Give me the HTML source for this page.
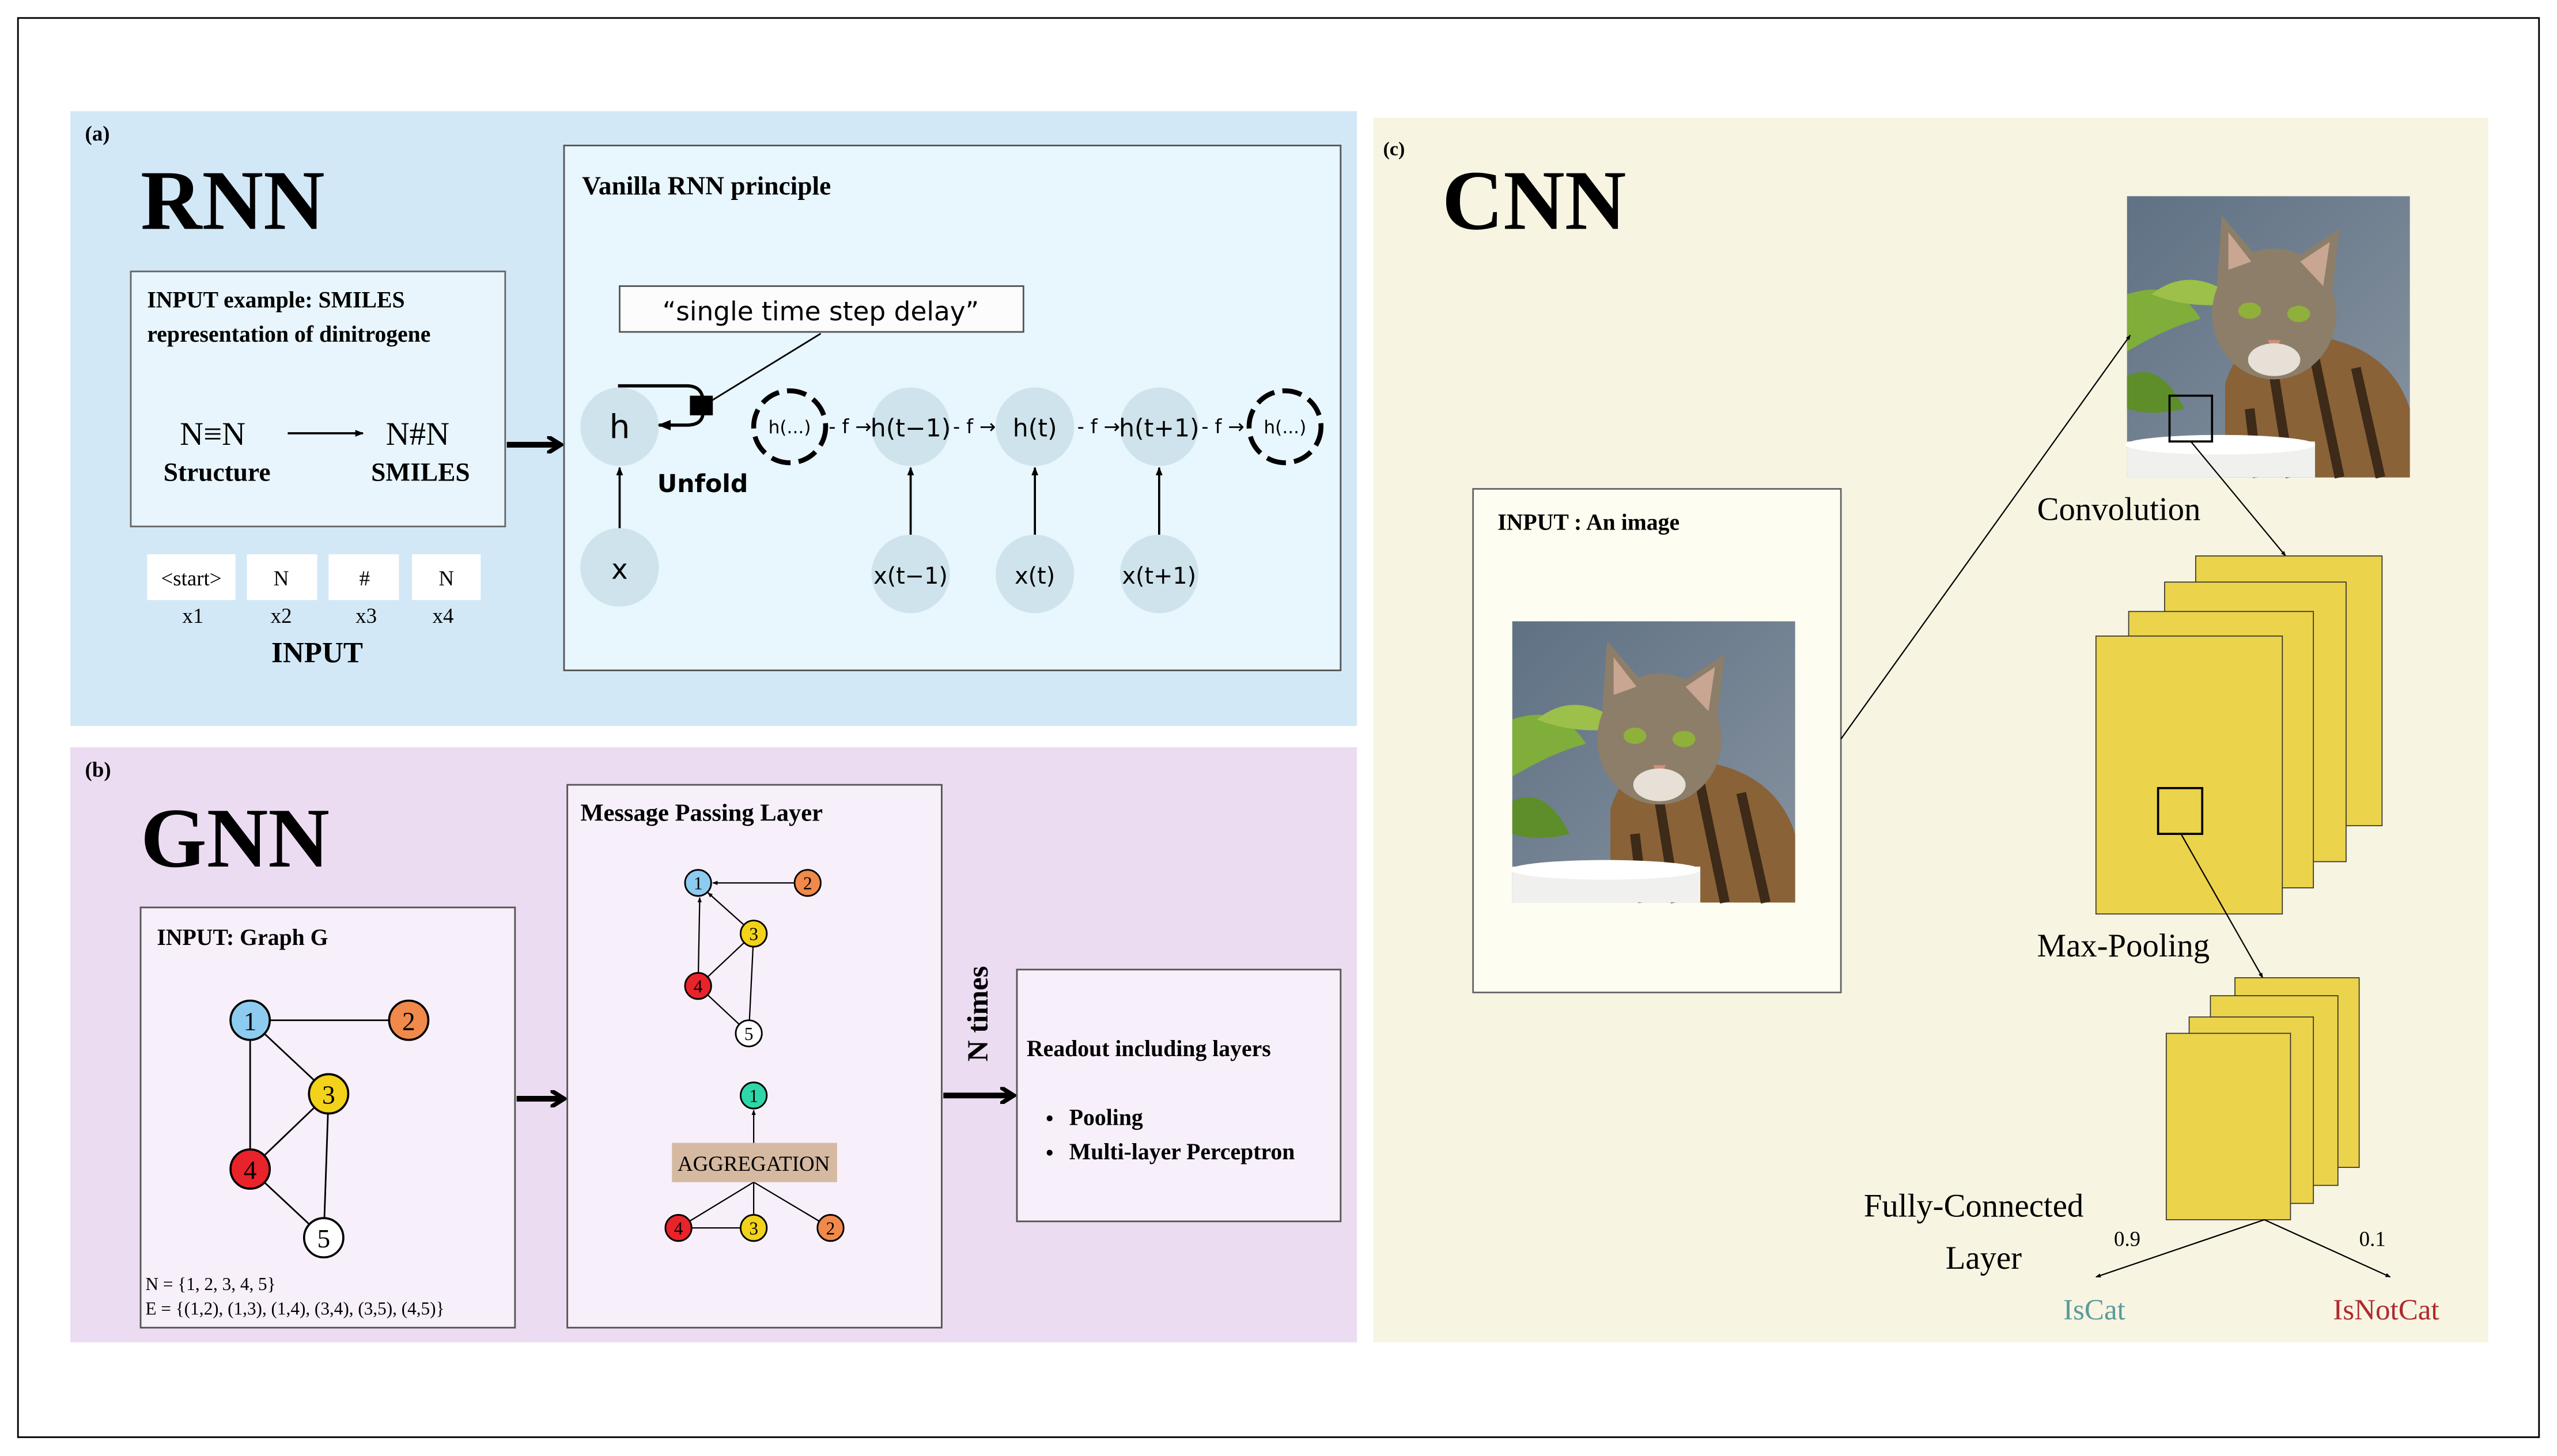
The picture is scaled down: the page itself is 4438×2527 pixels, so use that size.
<!DOCTYPE html>
<html><head><meta charset="utf-8"><style>
html,body{margin:0;padding:0;background:#fff;}
svg{display:block;}
.sb{font-family:"Liberation Serif",serif;font-weight:bold;}
.s{font-family:"Liberation Serif",serif;}
.ss{font-family:"DejaVu Sans","Liberation Sans",sans-serif;}
</style></head><body>
<svg width="4438" height="2527" viewBox="0 0 1564 890.5" preserveAspectRatio="none" xmlns="http://www.w3.org/2000/svg">
<defs>
<marker id="ar" viewBox="0 0 10 10" refX="9" refY="5" markerWidth="5" markerHeight="5" orient="auto"><path d="M0,0L10,5L0,10z" fill="#000"/></marker>
<marker id="as" viewBox="0 0 10 10" refX="9" refY="5" markerWidth="4" markerHeight="4" orient="auto"><path d="M0,1L10,5L0,9z" fill="#000"/></marker>
<marker id="ab" viewBox="0 0 10 10" refX="6" refY="5" markerWidth="3" markerHeight="3" orient="auto"><path d="M0,0L8,5L0,10" fill="none" stroke="#000" stroke-width="2.5"/></marker>
<linearGradient id="bg" x1="0" y1="0" x2="1" y2="1"><stop offset="0" stop-color="#5f7184"/><stop offset="1" stop-color="#8793a0"/></linearGradient>
<g id="cat">
<rect width="173" height="172" fill="url(#bg)"/>
<path d="M0,60 Q30,50 45,75 Q25,80 0,95z" fill="#7fae3a"/>
<path d="M0,110 Q20,100 35,130 Q15,135 0,130z" fill="#5e8e2a"/>
<path d="M15,60 Q40,40 70,65 Q40,70 15,60z" fill="#9cc04a"/>
<path d="M60,172 L60,115 Q70,80 110,85 Q160,90 173,130 L173,172z" fill="#8a6238"/>
<path d="M90,110 L100,172 M115,100 L130,172 M140,105 L155,172 M75,130 L80,172" stroke="#3d2a18" stroke-width="6"/>
<ellipse cx="90" cy="72" rx="38" ry="40" fill="#8d7e69"/>
<path d="M55,55 L58,12 L82,40z M100,40 L130,20 L125,62z" fill="#8d7e69"/>
<path d="M62,45 L62,22 L76,40z M106,40 L124,28 L120,55z" fill="#c9a692"/>
<ellipse cx="75" cy="70" rx="7" ry="5" fill="#8fb03a"/><ellipse cx="105" cy="72" rx="7" ry="5" fill="#8fb03a"/>
<path d="M86,88 L94,88 L90,95z" fill="#d28e7a"/>
<ellipse cx="90" cy="100" rx="16" ry="10" fill="#e6e0d6"/>
<rect x="0" y="150" width="115" height="22" fill="#f0f0ee"/>
<ellipse cx="57" cy="152" rx="58" ry="6" fill="#ffffff"/>
</g>
</defs>

<rect x="11" y="11" width="1542" height="868" fill="none" stroke="#000" stroke-width="1"/>

<!-- Panel a -->
<rect x="43" y="68" width="787" height="376" fill="#d3e8f7"/>
<text x="52" y="86" class="sb" font-size="13">(a)</text>
<text x="86" y="140" class="sb" font-size="52">RNN</text>
<rect x="80" y="166" width="229" height="156" fill="#e8f5fc" stroke="#666" stroke-width="1"/>
<text x="90" y="188" class="sb" font-size="14">INPUT example: SMILES</text>
<text x="90" y="209" class="sb" font-size="14">representation of dinitrogene</text>
<text x="110" y="272" class="s" font-size="20">N≡N</text>
<line x1="176" y1="265" x2="222" y2="265" stroke="#000" stroke-width="1.3" marker-end="url(#as)"/>
<text x="236" y="272" class="s" font-size="20">N#N</text>
<text x="100" y="294" class="sb" font-size="16">Structure</text>
<text x="227" y="294" class="sb" font-size="16">SMILES</text>
<rect x="90" y="339" width="54" height="28" fill="#fff"/>
<rect x="151" y="339" width="43" height="28" fill="#fff"/>
<rect x="201" y="339" width="43" height="28" fill="#fff"/>
<rect x="252" y="339" width="42" height="28" fill="#fff"/>
<g class="s" font-size="13" text-anchor="middle">
<text x="117" y="358">&lt;start&gt;</text><text x="172" y="358">N</text><text x="223" y="358">#</text><text x="273" y="358">N</text>
<text x="118" y="381">x1</text><text x="172" y="381">x2</text><text x="224" y="381">x3</text><text x="271" y="381">x4</text>
</g>
<text x="194" y="405" class="sb" font-size="18" text-anchor="middle">INPUT</text>
<line x1="310" y1="272" x2="341" y2="272" stroke="#000" stroke-width="3.5" marker-end="url(#ab)"/>

<rect x="345" y="89" width="475" height="321" fill="#e8f6fd" stroke="#555" stroke-width="1"/>
<text x="356" y="119" class="sb" font-size="16">Vanilla RNN principle</text>
<rect x="379" y="175" width="247" height="28" fill="#fcfcfc" stroke="#555" stroke-width="1"/>
<text x="502" y="196" class="ss" font-size="16" text-anchor="middle">“single time step delay”</text>
<line x1="502" y1="204" x2="432" y2="247" stroke="#000" stroke-width="1"/>
<g fill="#cfe3ec">
<circle cx="379" cy="261" r="24"/><circle cx="379" cy="347" r="24"/>
<circle cx="557" cy="261" r="24"/><circle cx="633" cy="261" r="24"/><circle cx="709" cy="261" r="24"/>
<circle cx="557" cy="351" r="24"/><circle cx="633" cy="351" r="24"/><circle cx="709" cy="351" r="24"/>
</g>
<path d="M379,237 L379,236 L420,236 Q430,236 430,246 L430,252 Q430,260 420,260 L403,260" fill="none" stroke="#000" stroke-width="2" marker-end="url(#as)"/>
<rect x="422" y="242" width="14" height="12" fill="#000"/>
<circle cx="483" cy="261" r="22" fill="none" stroke="#000" stroke-width="3" stroke-dasharray="12 5"/>
<circle cx="786" cy="261" r="22" fill="none" stroke="#000" stroke-width="3" stroke-dasharray="12 5"/>
<g class="ss" text-anchor="middle">
<text x="379" y="268" font-size="20">h</text><text x="379" y="354" font-size="17">x</text>
<text x="483" y="265" font-size="11">h(...)</text><text x="786" y="265" font-size="11">h(...)</text>
<text x="557" y="267" font-size="15">h(t−1)</text><text x="633" y="267" font-size="15">h(t)</text><text x="709" y="267" font-size="15">h(t+1)</text>
<text x="557" y="357" font-size="14">x(t−1)</text><text x="633" y="357" font-size="14">x(t)</text><text x="709" y="357" font-size="14">x(t+1)</text>
<text x="520" y="265" font-size="12">- f →</text><text x="596" y="265" font-size="12">- f →</text>
<text x="672" y="265" font-size="12">- f →</text><text x="748" y="265" font-size="12">- f →</text>
</g>
<text x="402" y="301" class="ss" font-size="15" font-weight="bold">Unfold</text>
<g stroke="#000" stroke-width="1.3" marker-end="url(#as)">
<line x1="379" y1="323" x2="379" y2="286"/>
<line x1="557" y1="327" x2="557" y2="286"/><line x1="633" y1="327" x2="633" y2="286"/><line x1="709" y1="327" x2="709" y2="286"/>
</g>

<!-- Panel b -->
<rect x="43" y="457" width="787" height="364" fill="#ecdcf2"/>
<text x="52" y="475" class="sb" font-size="13">(b)</text>
<text x="86" y="530" class="sb" font-size="52">GNN</text>
<rect x="86" y="555" width="229" height="257" fill="#f7effa" stroke="#555" stroke-width="1"/>
<text x="96" y="578" class="sb" font-size="14">INPUT: Graph G</text>
<g stroke="#000" stroke-width="1">
<line x1="153" y1="624" x2="250" y2="624"/><line x1="153" y1="624" x2="201" y2="669"/><line x1="153" y1="624" x2="153" y2="715"/>
<line x1="201" y1="669" x2="153" y2="715"/><line x1="201" y1="669" x2="198" y2="757"/><line x1="153" y1="715" x2="198" y2="757"/>
</g>
<g stroke="#000" stroke-width="1.3">
<circle cx="153" cy="624" r="12" fill="#8ecbf0"/><circle cx="250" cy="624" r="12" fill="#f0894a"/>
<circle cx="201" cy="669" r="12" fill="#f2d21a"/><circle cx="153" cy="715" r="12" fill="#e8232a"/><circle cx="198" cy="757" r="12" fill="#fff"/>
</g>
<g class="s" font-size="16" text-anchor="middle">
<text x="153" y="630">1</text><text x="250" y="630">2</text><text x="201" y="675">3</text><text x="153" y="721">4</text><text x="198" y="763">5</text>
</g>
<text x="89" y="789" class="s" font-size="11">N = {1, 2, 3, 4, 5}</text>
<text x="89" y="804" class="s" font-size="11">E = {(1,2), (1,3), (1,4), (3,4), (3,5), (4,5)}</text>
<line x1="316" y1="672" x2="343" y2="672" stroke="#000" stroke-width="3.5" marker-end="url(#ab)"/>

<rect x="347" y="480" width="229" height="332" fill="#f7effa" stroke="#555" stroke-width="1"/>
<text x="355" y="502" class="sb" font-size="15">Message Passing Layer</text>
<g stroke="#000" stroke-width="0.8">
<line x1="486" y1="540" x2="436" y2="540" marker-end="url(#as)"/>
<line x1="461" y1="571" x2="433" y2="546" marker-end="url(#as)"/>
<line x1="427" y1="603" x2="428" y2="549" marker-end="url(#as)"/>
<line x1="461" y1="571" x2="427" y2="603"/><line x1="461" y1="571" x2="458" y2="632"/><line x1="427" y1="603" x2="458" y2="632"/>
<line x1="461" y1="699" x2="461" y2="679" marker-end="url(#as)"/>
<line x1="415" y1="751" x2="461" y2="723"/><line x1="461" y1="751" x2="461" y2="723"/><line x1="508" y1="751" x2="461" y2="723"/>
<line x1="415" y1="751" x2="461" y2="751"/>
</g>
<g stroke="#000" stroke-width="1">
<circle cx="427" cy="540" r="8" fill="#8ecbf0"/><circle cx="494" cy="540" r="8" fill="#f0894a"/>
<circle cx="461" cy="571" r="8" fill="#f2d21a"/><circle cx="427" cy="603" r="8" fill="#e8232a"/><circle cx="458" cy="632" r="8" fill="#fff"/>
<circle cx="461" cy="670" r="8" fill="#2fd6a8"/>
<circle cx="415" cy="751" r="8" fill="#e8232a"/><circle cx="461" cy="751" r="8" fill="#f2d21a"/><circle cx="508" cy="751" r="8" fill="#f0894a"/>
</g>
<g class="s" font-size="11" text-anchor="middle">
<text x="427" y="544">1</text><text x="494" y="544">2</text><text x="461" y="575">3</text><text x="427" y="607">4</text><text x="458" y="636">5</text>
<text x="461" y="674">1</text><text x="415" y="755">4</text><text x="461" y="755">3</text><text x="508" y="755">2</text>
</g>
<rect x="411" y="699" width="101" height="24" fill="#d5b9a1"/>
<text x="461" y="716" class="s" font-size="13" text-anchor="middle">AGGREGATION</text>
<text transform="translate(604,620) rotate(-90)" class="sb" font-size="18" text-anchor="middle">N times</text>
<line x1="577" y1="670" x2="618" y2="670" stroke="#000" stroke-width="3.5" marker-end="url(#ab)"/>
<rect x="622" y="593" width="198" height="154" fill="#f7effa" stroke="#555" stroke-width="1"/>
<text x="628" y="646" class="sb" font-size="14">Readout including layers</text>
<circle cx="642" cy="684" r="1.8" fill="#000"/><circle cx="642" cy="705" r="1.8" fill="#000"/>
<text x="654" y="688" class="sb" font-size="14">Pooling</text>
<text x="654" y="709" class="sb" font-size="14">Multi-layer Perceptron</text>

<!-- Panel c -->
<rect x="840" y="72" width="682" height="749" fill="#f7f4e2"/>
<text x="846" y="95" class="sb" font-size="12">(c)</text>
<text x="882" y="140" class="sb" font-size="52">CNN</text>
<rect x="901" y="299" width="225" height="308" fill="#fdfdf1" stroke="#666" stroke-width="1"/>
<text x="916" y="324" class="sb" font-size="14">INPUT  : An image</text>
<use href="#cat" x="925" y="380"/>
<use href="#cat" x="1301" y="120"/>
<rect x="1327" y="242" width="26" height="28" fill="none" stroke="#000" stroke-width="1.3"/>
<line x1="1126" y1="452" x2="1303" y2="205" stroke="#000" stroke-width="0.8" marker-end="url(#as)"/>
<text x="1246" y="318" class="s" font-size="20">Convolution</text>
<line x1="1340" y1="270" x2="1398" y2="340" stroke="#000" stroke-width="0.8" marker-end="url(#as)"/>
<g fill="#ebd34b" stroke="#333" stroke-width="0.6">
<rect x="1343" y="340" width="114" height="165"/><rect x="1324" y="356" width="111" height="171"/>
<rect x="1302" y="374" width="113" height="169"/><rect x="1282" y="389" width="114" height="170"/>
</g>
<rect x="1320" y="482" width="27" height="28" fill="none" stroke="#000" stroke-width="1.3"/>
<text x="1246" y="585" class="s" font-size="20">Max-Pooling</text>
<line x1="1334" y1="510" x2="1384" y2="598" stroke="#000" stroke-width="0.8" marker-end="url(#as)"/>
<g fill="#ebd34b" stroke="#333" stroke-width="0.6">
<rect x="1367" y="598" width="76" height="116"/><rect x="1352" y="609" width="78" height="116"/>
<rect x="1339" y="622" width="76" height="114"/><rect x="1325" y="632" width="76" height="114"/>
</g>
<text x="1140" y="744" class="s" font-size="20">Fully-Connected</text>
<text x="1190" y="776" class="s" font-size="20">Layer</text>
<line x1="1385" y1="746" x2="1282" y2="781" stroke="#000" stroke-width="0.8" marker-end="url(#as)"/>
<line x1="1385" y1="746" x2="1462" y2="781" stroke="#000" stroke-width="0.8" marker-end="url(#as)"/>
<text x="1293" y="762" class="s" font-size="13">0.9</text>
<text x="1443" y="762" class="s" font-size="13">0.1</text>
<text x="1262" y="807" class="s" font-size="18" fill="#5b9a9a">IsCat</text>
<text x="1427" y="807" class="s" font-size="18" fill="#b0282e">IsNotCat</text>
</svg>
</body></html>
